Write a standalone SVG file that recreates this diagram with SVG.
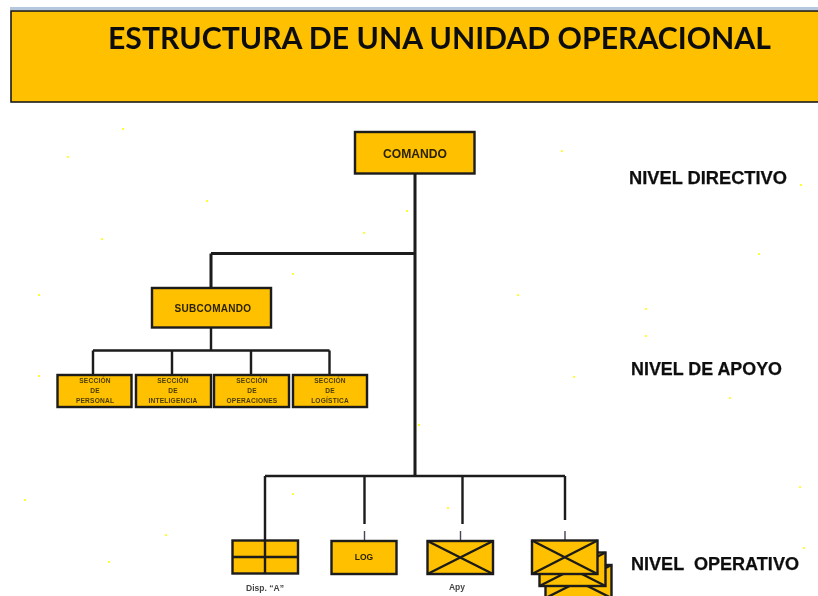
<svg xmlns="http://www.w3.org/2000/svg" width="818" height="596" viewBox="0 0 818 596">
<style>
.b{fill:#ffc000;stroke:#1a1a1a;stroke-width:2.4}
.c{fill:none;stroke:#1a1a1a;stroke-width:2.4}
.t{font-family:"Liberation Sans",Arial,sans-serif;font-weight:700;fill:#2b2400;text-anchor:middle}
.s{font-size:6.6px;letter-spacing:.2px;fill:#4a3c00}
.l{font-size:18px;fill:#111;text-anchor:start;stroke:#111;stroke-width:.25}
.d{fill:#ffff33}
</style>
<defs>
<filter id="soft" x="-5%" y="-5%" width="110%" height="110%"><feGaussianBlur stdDeviation="0.45"/></filter>
</defs>
<rect width="818" height="596" fill="#fff"/>
<g id="specks">
<rect class="d" x="122" y="128" width="2" height="2"/><rect class="d" x="67" y="156" width="2" height="2"/><rect class="d" x="561" y="150" width="2" height="2"/><rect class="d" x="206" y="200" width="2" height="2"/><rect class="d" x="406" y="210" width="2" height="2"/><rect class="d" x="363" y="232" width="2" height="2"/><rect class="d" x="101" y="238" width="2" height="2"/><rect class="d" x="292" y="273" width="2" height="2"/><rect class="d" x="38" y="294" width="2" height="2"/><rect class="d" x="517" y="294" width="2" height="2"/><rect class="d" x="645" y="308" width="2" height="2"/><rect class="d" x="645" y="335" width="2" height="2"/><rect class="d" x="758" y="253" width="2" height="2"/><rect class="d" x="800" y="184" width="2" height="2"/><rect class="d" x="729" y="397" width="2" height="2"/><rect class="d" x="573" y="376" width="2" height="2"/><rect class="d" x="418" y="424" width="2" height="2"/><rect class="d" x="38" y="375" width="2" height="2"/><rect class="d" x="799" y="486" width="2" height="2"/><rect class="d" x="24" y="499" width="2" height="2"/><rect class="d" x="108" y="561" width="2" height="2"/><rect class="d" x="165" y="534" width="2" height="2"/><rect class="d" x="292" y="493" width="2" height="2"/><rect class="d" x="447" y="507" width="2" height="2"/><rect class="d" x="803" y="547" width="2" height="2"/>
</g>
<g filter="url(#soft)">
<g id="header">
<rect x="10" y="7" width="808" height="3" fill="#b4c7dc"/>
<rect x="11" y="11" width="815" height="91" fill="#ffc000" stroke="#1a1a1a" stroke-width="1.6"/>
<text x="108" y="49" font-family="Lato,'Open Sans',sans-serif" font-weight="700" font-size="30" fill="#111" textLength="663" lengthAdjust="spacingAndGlyphs">ESTRUCTURA DE UNA UNIDAD OPERACIONAL</text>
</g>
<g id="connectors">
<path class="c" style="stroke-width:3" d="M415 174V476M211 253.500H415M211 253.500V287"/>
<path class="c" d="M211 328V350.500M93 350.500H329.500M93 350.500V375M172 350.500V375M251 350.500V375M329.500 350.500V375"/>
<path class="c" d="M265 476H565M265 476V541M364.500 476V524M462.500 476V524M565 476V520"/>
<path class="c" style="stroke-width:1.4;stroke:#445" d="M364.500 531V541M460.500 531V541M565 531V541"/>
</g>
<g id="comando"><rect class="b" x="355" y="132" width="119.500" height="41.500"/><text class="t" x="415" y="158" font-size="12" textLength="64" lengthAdjust="spacingAndGlyphs">COMANDO</text></g>
<g id="subcomando"><rect class="b" x="152" y="288" width="119" height="39.500"/><text class="t" x="213" y="311.500" font-size="10" letter-spacing=".3" fill="#3d3200">SUBCOMANDO</text></g>
<g id="personal"><rect class="b" x="57.500" y="375" width="74" height="32"/><text class="t s" x="95" y="383">SECCIÓN</text><text class="t s" x="95" y="393">DE</text><text class="t s" x="95" y="403">PERSONAL</text></g>
<g id="inteligencia"><rect class="b" x="136" y="375" width="75" height="32"/><text class="t s" x="173" y="383">SECCIÓN</text><text class="t s" x="173" y="393">DE</text><text class="t s" x="173" y="403">INTELIGENCIA</text></g>
<g id="operaciones"><rect class="b" x="214" y="375" width="75" height="32"/><text class="t s" x="252" y="383">SECCIÓN</text><text class="t s" x="252" y="393">DE</text><text class="t s" x="252" y="403">OPERACIONES</text></g>
<g id="logistica"><rect class="b" x="293" y="375" width="74" height="32"/><text class="t s" x="330" y="383">SECCIÓN</text><text class="t s" x="330" y="393">DE</text><text class="t s" x="330" y="403">LOGÍSTICA</text></g>
<g id="disp"><rect class="b" x="232.500" y="540.500" width="65.500" height="33"/><path class="c" d="M232.500 557H298M265 540.500V573.500"/><text class="t" x="265" y="591" font-size="8.500" style="fill:#444">Disp. “A”</text></g>
<g id="log"><rect class="b" x="331.500" y="541" width="65" height="33"/><text class="t" x="364" y="559.500" font-size="8.500">LOG</text></g>
<g id="apy"><rect class="b" x="427.500" y="541" width="65.500" height="33"/><path class="c" d="M427.500 541L493 574M493 541L427.500 574"/><text class="t" x="457" y="590" font-size="8.500" style="fill:#444">Apy</text></g>
<g id="stack">
<rect class="b" x="545.500" y="565" width="66" height="33"/><path class="c" d="M545.500 565L611.500 598M611.500 565L545.500 598"/>
<rect class="b" x="539.500" y="552.500" width="66" height="33.500"/><path class="c" d="M539.500 552.500L605.500 586M605.500 552.500L539.500 586"/>
<rect class="b" x="532" y="540.500" width="65.500" height="33.500"/><path class="c" d="M532 540.500L597.500 574M597.500 540.500L532 574"/>
</g>
<g id="niveles">
<text class="t l" x="629" y="184" textLength="158" lengthAdjust="spacingAndGlyphs">NIVEL DIRECTIVO</text>
<text class="t l" x="631" y="375" textLength="151" lengthAdjust="spacingAndGlyphs">NIVEL DE APOYO</text>
<text class="t l" x="631" y="570" textLength="168" lengthAdjust="spacingAndGlyphs" xml:space="preserve">NIVEL  OPERATIVO</text>
</g>
</g>
</svg>
